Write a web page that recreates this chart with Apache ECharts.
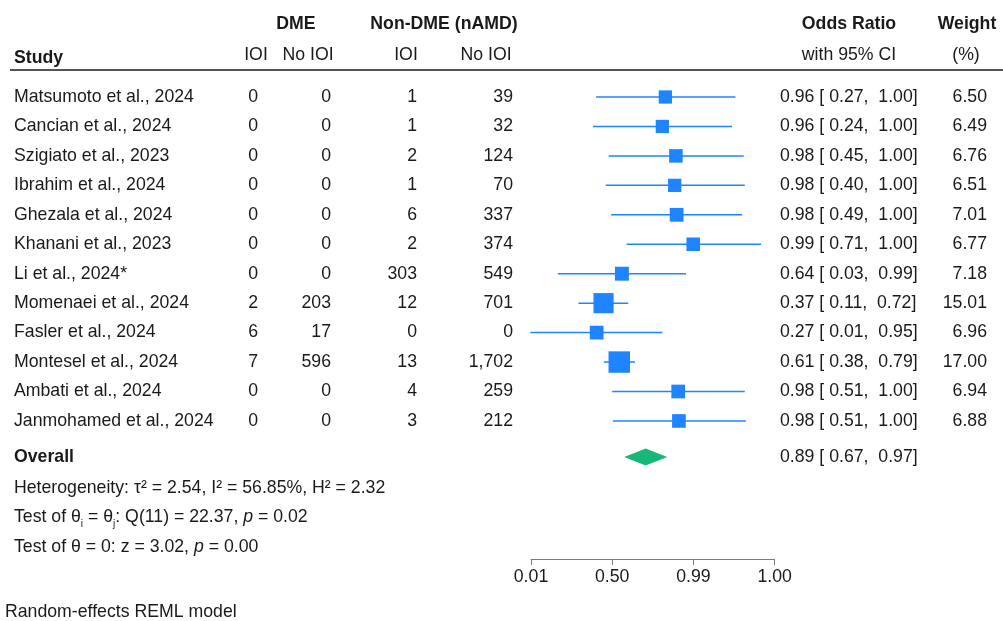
<!DOCTYPE html>
<html>
<head>
<meta charset="utf-8">
<title>Forest plot - IOI, DME vs non-DME</title>
<script src="https://cdn.jsdelivr.net/npm/echarts@6/dist/echarts.min.js"></script>
<style>
  html, body { margin: 0; padding: 0; background: #fff; }
  #main { width: 1003px; height: 621px; }
</style>
</head>
<body>
<div id="main"></div>
<script>
// ---- data ----
const studies = ['Matsumoto et al., 2024', 'Cancian et al., 2024', 'Szigiato et al., 2023', 'Ibrahim et al., 2024',
  'Ghezala et al., 2024', 'Khanani et al., 2023', 'Li et al., 2024*', 'Momenaei et al., 2024',
  'Fasler et al., 2024', 'Montesel et al., 2024', 'Ambati et al., 2024', 'Janmohamed et al., 2024'];
const dmeIoi    = [0, 0, 0, 0, 0, 0, 0, 2, 6, 7, 0, 0];
const dmeNoIoi  = [0, 0, 0, 0, 0, 0, 0, 203, 17, 596, 0, 0];
const nonIoi    = [1, 1, 2, 1, 6, 2, 303, 12, 0, 13, 4, 3];
const nonNoIoi  = [39, 32, 124, 70, 337, 374, 549, 701, 0, 1702, 259, 212];
const orEst = [0.96, 0.96, 0.98, 0.98, 0.98, 0.99, 0.64, 0.37, 0.27, 0.61, 0.98, 0.98];
const orLo  = [0.27, 0.24, 0.45, 0.40, 0.49, 0.71, 0.03, 0.11, 0.01, 0.38, 0.51, 0.51];
const orHi  = [1.00, 1.00, 1.00, 1.00, 1.00, 1.00, 0.99, 0.72, 0.95, 0.79, 1.00, 1.00];
const weight = [6.50, 6.49, 6.76, 6.51, 7.01, 6.77, 7.18, 15.01, 6.96, 17.00, 6.94, 6.88];
// where the marks sit on the plot (log-odds scale)
const esLogit = [3.01, 2.84, 3.61, 3.54, 3.65, 4.59, 0.55, -0.49, -0.88, 0.40, 3.74, 3.78];
const loLogit = [-0.91, -1.09, -0.20, -0.37, -0.06, 0.82, -3.08, -1.91, -4.63, -0.47, 0.00, 0.04];
const hiLogit = [6.98, 6.79, 7.45, 7.51, 7.36, 8.43, 4.18, 0.91, 2.84, 1.29, 7.51, 7.57];
const overallOr = [0.89, 0.67, 0.97];          // est, lo, hi
const overallLogit = [1.89, 0.68, 3.12];       // est, lo, hi
const tickLabels = ['0.01', '0.50', '0.99', '1.00'];
const statLines = [
  'Heterogeneity: τ² = 2.54, I² = 56.85%, H² = 2.32',
  'Test of θ{sub|i} = θ{sub|j}: Q(11) = 22.37, {it|p} = 0.02',
  'Test of θ = 0: z = 3.02, {it|p} = 0.00'
];

// ---- layout ----
const FONT = '"Liberation Sans", Arial, Helvetica, sans-serif';
const FS = 17.7;
const INK = '#1a1a1a';
const BLUE = '#1f84ff';
const GREEN = '#17b679';
const ROW0 = 97, PITCH = 29.45, AXIS_Y = 559;
const rowOf = y => (y - ROW0) / PITCH;   // pixel row centre -> row units
const AX_MIN = -4.6, AX_STEP = 4.6;

const fmt2 = v => v.toFixed(2);
const fmtN = v => v.toLocaleString('en-US');

const cells = [];
function cell(x, row, text, align, bold) {
  cells.push({ value: [x, row], text: text, align: align, bold: !!bold });
}

// headers
cell(296, rowOf(24), 'DME', 'center', true);
cell(444, rowOf(24), 'Non-DME (nAMD)', 'center', true);
cell(849, rowOf(24), 'Odds Ratio', 'center', true);
cell(967, rowOf(24), 'Weight', 'center', true);
cell(14, rowOf(58), 'Study', 'left', true);
cell(256, rowOf(55), 'IOI', 'center');
cell(308, rowOf(55), 'No IOI', 'center');
cell(406, rowOf(55), 'IOI', 'center');
cell(486, rowOf(55), 'No IOI', 'center');
cell(849, rowOf(55), 'with 95% CI', 'center');
cell(966, rowOf(55), '(%)', 'center');

studies.forEach((s, i) => {
  cell(14, i, s, 'left');
  cell(258, i, fmtN(dmeIoi[i]), 'right');
  cell(331, i, fmtN(dmeNoIoi[i]), 'right');
  cell(417, i, fmtN(nonIoi[i]), 'right');
  cell(513, i, fmtN(nonNoIoi[i]), 'right');
  cell(780, i, fmt2(orEst[i]) + ' [ ' + fmt2(orLo[i]) + ',  ' + fmt2(orHi[i]) + ']', 'left');
  cell(987, i, fmt2(weight[i]), 'right');
});

const OVERALL_ROW = rowOf(457);
cell(14, OVERALL_ROW, 'Overall', 'left', true);
cell(780, OVERALL_ROW, fmt2(overallOr[0]) + ' [ ' + fmt2(overallOr[1]) + ',  ' + fmt2(overallOr[2]) + ']', 'left');
cell(14, rowOf(488), statLines[0], 'left');
cell(14, rowOf(517), statLines[1], 'left');
cell(14, rowOf(547), statLines[2], 'left');
cell(5, rowOf(612), 'Random-effects REML model', 'left');

const forestData = studies.map((s, i) => [loLogit[i], esLogit[i], hiLogit[i], i, weight[i]]);

const chart = echarts.init(document.getElementById('main'));
chart.setOption({
  animation: false,
  backgroundColor: '#fff',
  graphic: [{
    type: 'line',
    shape: { x1: 10, y1: 70, x2: 1003, y2: 70 },
    style: { stroke: '#555', lineWidth: 2 }
  }],
  grid: [
    { left: 531, width: 243.6, top: 0, height: AXIS_Y, containLabel: false, outerBoundsMode: 'none' },
    { left: 0, width: 1003, top: 0, height: 621, containLabel: false, outerBoundsMode: 'none' }
  ],
  xAxis: [
    {
      gridIndex: 0, type: 'value', position: 'bottom',
      min: AX_MIN, max: AX_MIN + 3 * AX_STEP, interval: AX_STEP,
      splitLine: { show: false },
      axisLine: { show: true, onZero: false, lineStyle: { color: '#7d7d7d', width: 1 } },
      axisTick: { show: true, length: 6, lineStyle: { color: '#7d7d7d' } },
      axisLabel: {
        margin: 9, color: INK, fontFamily: FONT, fontSize: FS,
        formatter: v => tickLabels[Math.round((v - AX_MIN) / AX_STEP)]
      }
    },
    { gridIndex: 1, type: 'value', min: 0, max: 1003, show: false }
  ],
  yAxis: [
    { gridIndex: 0, type: 'value', inverse: true, min: rowOf(0), max: rowOf(AXIS_Y), show: false },
    { gridIndex: 1, type: 'value', inverse: true, min: rowOf(0), max: rowOf(621), show: false }
  ],
  series: [
    {
      // CI lines and weight squares
      type: 'custom',
      xAxisIndex: 0, yAxisIndex: 0,
      encode: { x: [0, 1, 2], y: 3 },
      data: forestData,
      renderItem: (params, api) => {
        const row = api.value(3);
        const y = api.coord([0, row])[1];
        const xl = api.coord([api.value(0), row])[0];
        const xe = api.coord([api.value(1), row])[0];
        const xh = api.coord([api.value(2), row])[0];
        const s = 5.2 * Math.sqrt(api.value(4));
        return {
          type: 'group',
          children: [
            { type: 'line', shape: { x1: xl, y1: y, x2: xh, y2: y }, style: { stroke: BLUE, lineWidth: 1.5 } },
            { type: 'rect', shape: { x: xe - s / 2, y: y - s / 2, width: s, height: s }, style: { fill: BLUE } }
          ]
        };
      }
    },
    {
      // overall diamond
      type: 'custom',
      xAxisIndex: 0, yAxisIndex: 0,
      encode: { x: [0, 1, 2], y: 3 },
      data: [[overallLogit[1], overallLogit[0], overallLogit[2], OVERALL_ROW]],
      renderItem: (params, api) => {
        const row = api.value(3);
        const y = api.coord([0, row])[1];
        const xl = api.coord([api.value(0), row])[0];
        const xe = api.coord([api.value(1), row])[0];
        const xh = api.coord([api.value(2), row])[0];
        return {
          type: 'polygon',
          shape: { points: [[xl, y], [xe, y - 8.5], [xh, y], [xe, y + 8.5]] },
          style: { fill: GREEN }
        };
      }
    },
    {
      // table text
      type: 'custom',
      xAxisIndex: 1, yAxisIndex: 1,
      encode: { x: 0, y: 1 },
      data: cells.map(c => c.value),
      renderItem: (params, api) => {
        const c = cells[params.dataIndex];
        const p = api.coord(c.value);
        return {
          type: 'text',
          x: p[0], y: p[1],
          style: {
            text: c.text,
            align: c.align,
            verticalAlign: 'middle',
            fill: INK,
            fontFamily: FONT,
            fontSize: FS,
            fontWeight: c.bold ? 'bold' : 'normal',
            rich: {
              sub: { fontFamily: FONT, fontSize: 10, fill: INK, verticalAlign: 'bottom', lineHeight: 24 },
              it: { fontFamily: FONT, fontSize: FS, fontStyle: 'italic', fill: INK }
            }
          }
        };
      }
    }
  ]
});
</script>
</body>
</html>
